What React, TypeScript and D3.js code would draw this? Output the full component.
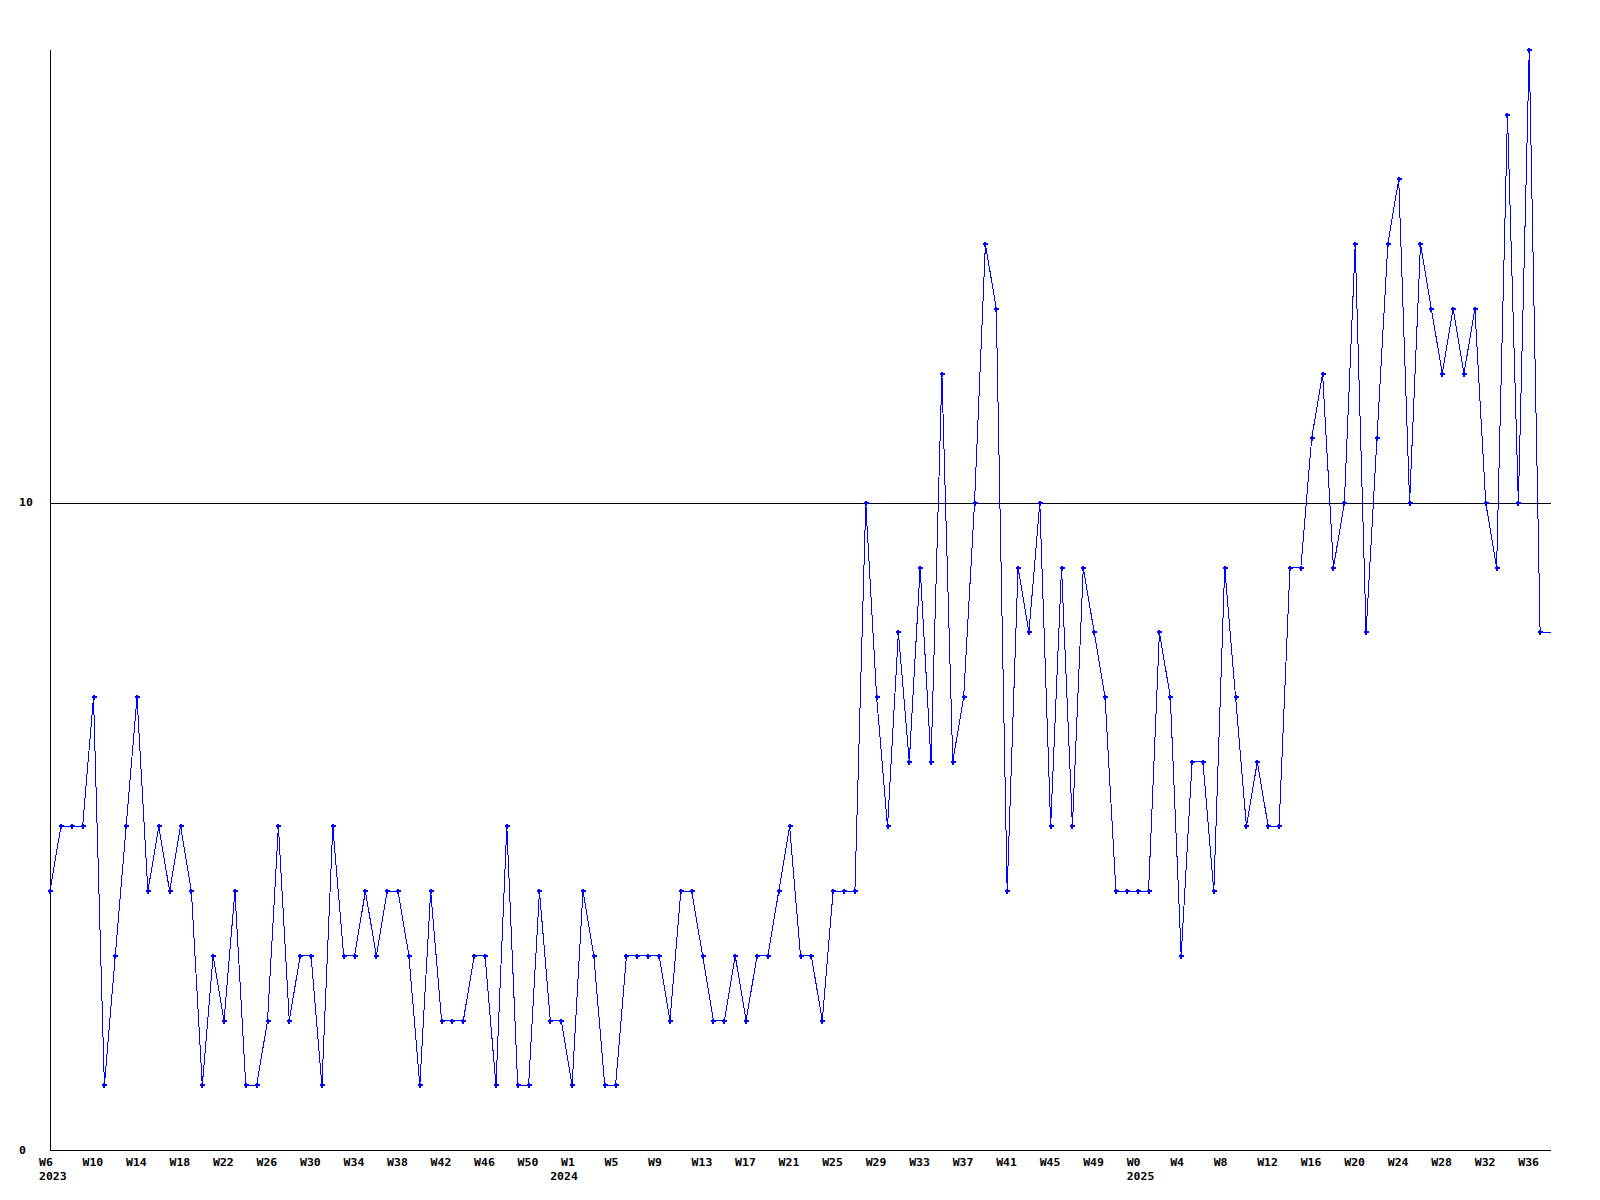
import React from "react";
import * as d3 from "d3";

// weekly counts, 2023 W6 .. 2025 (last value = current, partial week)
const values: number[] = [
  4, 5, 5, 5, 7, 1, 3, 5, 7, 4,
  5, 4, 5, 4, 1, 3, 2, 4, 1, 1,
  2, 5, 2, 3, 3, 1, 5, 3, 3, 4,
  3, 4, 4, 3, 1, 4, 2, 2, 2, 3,
  3, 1, 5, 1, 1, 4, 2, 2, 1, 4,
  3, 1, 1, 3, 3, 3, 3, 2, 4, 4,
  3, 2, 2, 3, 2, 3, 3, 4, 5, 3,
  3, 2, 4, 4, 4, 10, 7, 5, 8, 6,
  9, 6, 12, 6, 7, 10, 14, 13, 4, 9,
  8, 10, 5, 9, 5, 9, 8, 7, 4, 4,
  4, 4, 8, 7, 3, 6, 6, 4, 9, 7,
  5, 6, 5, 5, 9, 9, 11, 12, 9, 10,
  14, 8, 11, 14, 15, 10, 14, 13, 12, 13,
  12, 13, 10, 9, 16, 10, 17, 8, 8,
];

const weekLabels: string[] = [
  "W6", "W10", "W14", "W18", "W22", "W26", "W30", "W34", "W38", "W42", "W46", "W50",
  "W1", "W5", "W9", "W13", "W17", "W21", "W25", "W29", "W33", "W37", "W41", "W45", "W49",
  "W0", "W4", "W8", "W12", "W16", "W20", "W24", "W28", "W32", "W36",
];
const labelStep = 4;

const yearLabels: string[] = ["2023", "2024", "2025"];
// week index (0 = first week in the series) where each year label sits
const yearLabelIdx: number[] = [0, 47, 100];

const yTicks: number[] = [0, 10];
const yMax = 17;

const W = 1600;
const H = 1200;
const left = 50;
const right = 1551;
const top = 50;
const bottom = 1150;

const font = "'DejaVu Sans Mono', 'Liberation Mono', monospace";
const blue = "#0000ff";

function Label({ x, y, children }: { x: number; y: number; children: React.ReactNode }) {
  return (
    <text
      transform={`translate(${x},${y}) scale(1,0.85)`}
      fontFamily={font}
      fontWeight="bold"
      fontSize={11.5}
      fill="#000"
    >
      {children}
    </text>
  );
}

export default function App() {
  const x = d3.scaleLinear().domain([0, values.length - 1]).range([left, right]);
  const y = d3.scaleLinear().domain([0, yMax]).range([bottom, top]);
  const line = d3
    .line<number>()
    .x((_, i) => x(i))
    .y((d) => y(d));
  const marked = values.slice(0, -1);
  const markerPath = "M-2.5,-1h5v2h-5z M-1,-2.5h2v5h-2z";

  return (
    <svg
      width={W}
      height={H}
      style={{ position: "absolute", left: 0, top: 0, background: "#fff" }}
    >
      <rect x={0} y={0} width={W} height={H} fill="#fff" />
      {yTicks
        .filter((t) => t > 0)
        .map((t) => (
          <line
            key={t}
            x1={left}
            x2={right}
            y1={Math.round(y(t)) + 0.5}
            y2={Math.round(y(t)) + 0.5}
            stroke="#000"
            strokeWidth={1}
            shapeRendering="crispEdges"
          />
        ))}
      <line x1={left + 0.5} x2={left + 0.5} y1={top} y2={bottom} stroke="#000" shapeRendering="crispEdges" />
      <line x1={left} x2={right} y1={bottom + 0.5} y2={bottom + 0.5} stroke="#000" shapeRendering="crispEdges" />
      {yTicks.map((t) => (
        <Label key={t} x={19} y={y(t) + 3.5}>
          {t}
        </Label>
      ))}
      {weekLabels.map((l, k) => (
        <Label key={k} x={x(k * labelStep) - 11} y={1166}>
          {l}
        </Label>
      ))}
      {yearLabels.map((l, k) => (
        <Label key={l} x={x(yearLabelIdx[k]) - 11} y={1180}>
          {l}
        </Label>
      ))}
      <path d={line(values) || ""} fill="none" stroke={blue} strokeWidth={1} shapeRendering="crispEdges" />
      {marked.map((v, i) => (
        <path
          key={i}
          d={markerPath}
          transform={`translate(${Math.round(x(i))},${Math.round(y(v))})`}
          fill={blue}
          shapeRendering="crispEdges"
        />
      ))}
    </svg>
  );
}
